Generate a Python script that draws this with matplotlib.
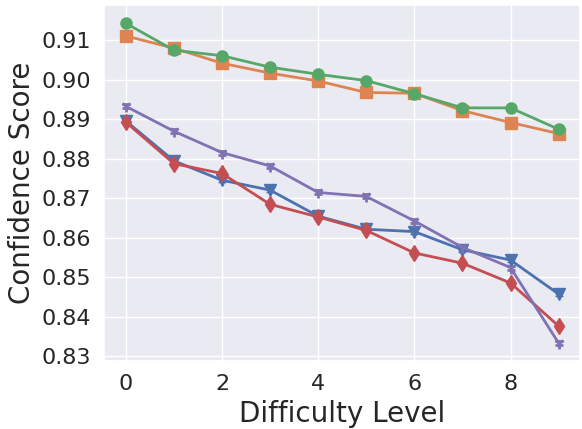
import matplotlib
matplotlib.use("Agg")
import matplotlib.pyplot as plt
import seaborn as sns

sns.set_theme(style="darkgrid", palette="deep")

levels = list(range(10))
blue = [0.8896, 0.8795, 0.8746, 0.8721, 0.8655, 0.8622, 0.8616, 0.8570, 0.8544, 0.8458]
orange = [0.9111, 0.9080, 0.9042, 0.9017, 0.8997, 0.8968, 0.8966, 0.8922, 0.8892, 0.8864]
green = [0.9143, 0.9075, 0.9061, 0.9032, 0.9014, 0.8998, 0.8965, 0.8929, 0.8929, 0.8875]
red = [0.8893, 0.8788, 0.8763, 0.8685, 0.8653, 0.8619, 0.8562, 0.8536, 0.8486, 0.8377]
purple = [0.8933, 0.8870, 0.8816, 0.8782, 0.8715, 0.8705, 0.8643, 0.8576, 0.8525, 0.8334]
err = 0.0005

cols = sns.color_palette("deep")
fig = plt.figure(figsize=(5.82, 4.29), dpi=100)
ax = fig.add_axes([0.179, 0.158, 0.818, 0.83])
series = [(blue, "v", cols[0]), (orange, "s", cols[1]), (green, "o", cols[2]),
          (red, "d", cols[3]), (purple, "1", cols[4])]
for vals, mk, c in series:
    ax.errorbar(levels, vals, yerr=err, marker=mk, color=c, markersize=8,
                linewidth=2, capsize=3, markeredgewidth=2 if mk == "1" else 1)

ax.set_xticks([0, 2, 4, 6, 8])
ax.set_yticks([0.83, 0.84, 0.85, 0.86, 0.87, 0.88, 0.89, 0.90, 0.91])
ax.tick_params(labelsize=16)
ax.set_xlabel("Difficulty Level", fontsize=20)
ax.set_ylabel("Confidence Score", fontsize=20)
plt.savefig("out.png", dpi=100)
